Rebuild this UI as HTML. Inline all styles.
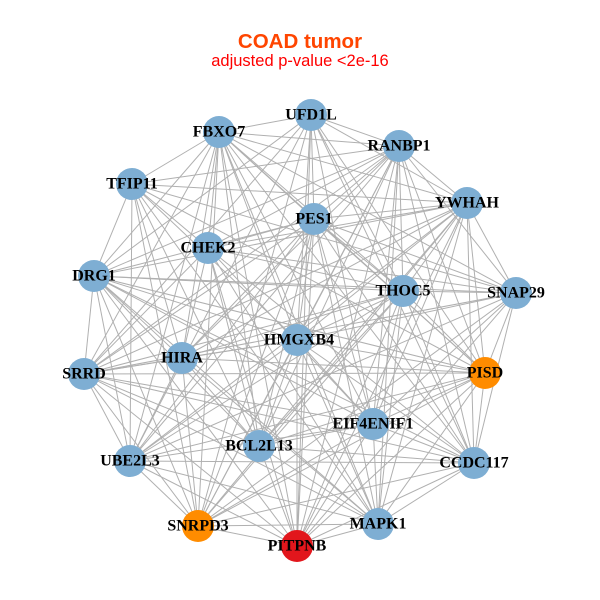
<!DOCTYPE html>
<html><head><meta charset="utf-8"><style>
body{margin:0;background:#fff}
svg{display:block}
text.l{font-family:"Liberation Serif",serif;font-weight:bold;font-size:16px;fill:#000;text-anchor:middle;dominant-baseline:central}
</style></head><body>
<svg id="s" width="600" height="600" viewBox="0 0 600 600">
<rect width="600" height="600" fill="#fff"/>
<text x="300" y="48" text-anchor="middle" font-family="Liberation Sans,sans-serif" font-weight="bold" font-size="20.5" fill="#FF4500">COAD tumor</text>
<text x="300" y="66" text-anchor="middle" font-family="Liberation Sans,sans-serif" font-size="16.5" fill="#FF0000">adjusted p-value &lt;2e-16</text>
<g id="edges" stroke="#b0b0b0" stroke-width="1"></g>
<g id="nodes"></g>
<g>
<text class="l" x="311" y="115">UFD1L</text>
<text class="l" x="219" y="132">FBXO7</text>
<text class="l" x="399" y="146">RANBP1</text>
<text class="l" x="132" y="184">TFIP11</text>
<text class="l" x="467" y="203">YWHAH</text>
<text class="l" x="314" y="219">PES1</text>
<text class="l" x="208" y="248">CHEK2</text>
<text class="l" x="94" y="276">DRG1</text>
<text class="l" x="403" y="291">THOC5</text>
<text class="l" x="516" y="293">SNAP29</text>
<text class="l" x="299" y="340">HMGXB4</text>
<text class="l" x="84" y="374">SRRD</text>
<text class="l" x="182" y="358">HIRA</text>
<text class="l" x="485" y="373">PISD</text>
<text class="l" x="373" y="424">EIF4ENIF1</text>
<text class="l" x="259" y="446">BCL2L13</text>
<text class="l" x="130" y="461">UBE2L3</text>
<text class="l" x="474" y="463">CCDC117</text>
<text class="l" x="378" y="524">MAPK1</text>
<text class="l" x="198" y="526">SNRPD3</text>
<text class="l" x="297" y="546">PITPNB</text>
</g>
</svg>
<script>
var N=[[311,115,0],[219,132,0],[399,146,0],[132,184,0],[467,203,0],[314,219,0],[208,248,0],[94,276,0],[403,291,0],[516,293,0],[297,340,0],[84,374,0],[182,358,0],[485,373,1],[373,424,0],[259,446,0],[130,461,0],[474,463,0],[378,524,0],[198,526,1],[297,546,2]];
var ns="http://www.w3.org/2000/svg",E=document.getElementById("edges"),G=document.getElementById("nodes");
for(var i=0;i<N.length;i++)for(var j=i+1;j<N.length;j++){if((i*7+j*3)%9==0)continue;var l=document.createElementNS(ns,"line");l.setAttribute("x1",N[i][0]);l.setAttribute("y1",N[i][1]);l.setAttribute("x2",N[j][0]);l.setAttribute("y2",N[j][1]);E.appendChild(l);}
var C=["#7EAED3","#FF8C00","#E2161C"];
N.forEach(function(n){var c=document.createElementNS(ns,"circle");c.setAttribute("cx",n[0]);c.setAttribute("cy",n[1]);c.setAttribute("r",16);c.setAttribute("fill",C[n[2]]);G.appendChild(c);});
</script>
</body></html>
